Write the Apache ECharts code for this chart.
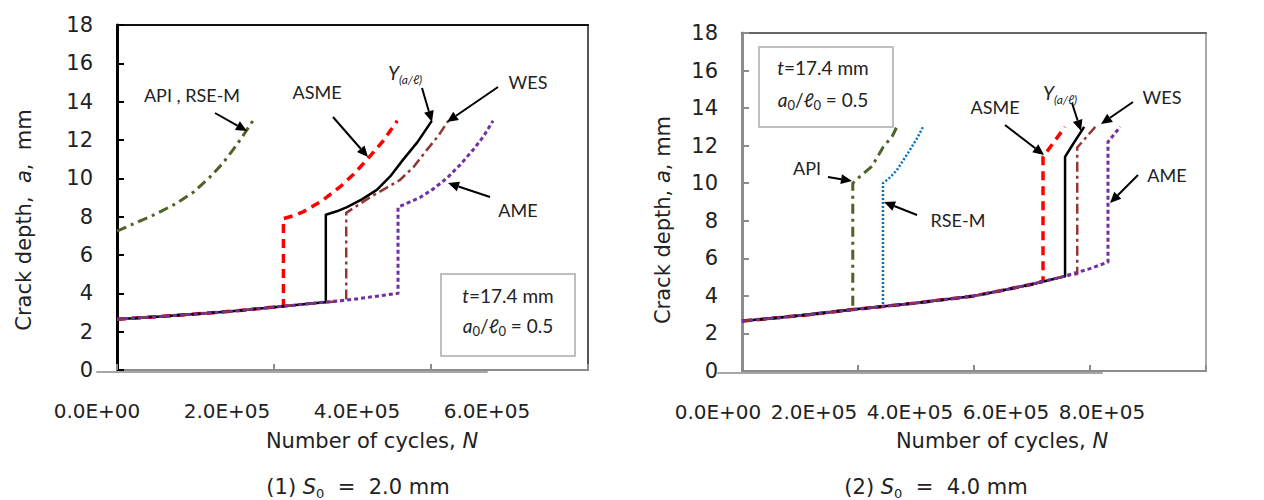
<!DOCTYPE html>
<html><head><meta charset="utf-8">
<script src="https://cdn.jsdelivr.net/npm/echarts@6/dist/echarts.min.js"></script>
<style>html,body{margin:0;padding:0;background:#fff}#c{width:1264px;height:500px}</style>
</head><body><div id="c"></div>
<script>
// ---------------- DATA ----------------
const xTickLabelsL = ['0.0E+00', '2.0E+05', '4.0E+05', '6.0E+05'];
const xTickLabelsR = ['0.0E+00', '2.0E+05', '4.0E+05', '6.0E+05', '8.0E+05'];

// (1) S0 = 2.0 mm
const L_API_N  = [0, 16600, 50000, 76000, 98000, 118000, 134000, 148000, 161000, 173000];
const L_API_A  = [7.25, 7.55, 8.15, 8.7, 9.3, 10.05, 10.75, 11.5, 12.25, 13.0];
const L_ASME_N = [0, 50000, 100000, 150000, 212000, 212000, 225000, 237000, 260000, 284000, 301000, 318000, 338000, 357000];
const L_ASME_A = [2.65, 2.78, 2.92, 3.08, 3.33, 7.9, 8.05, 8.25, 8.8, 9.55, 10.2, 10.95, 11.9, 13.0];
const L_Y_N    = [0, 50000, 100000, 150000, 200000, 250000, 266000, 266000, 280000, 293000, 312000, 331000, 348000, 364000, 383000, 401000];
const L_Y_A    = [2.65, 2.78, 2.92, 3.08, 3.28, 3.48, 3.53, 8.1, 8.28, 8.5, 8.9, 9.4, 10.1, 10.95, 11.9, 13.0];
const L_WES_N  = [0, 50000, 100000, 150000, 200000, 250000, 292000, 292000, 307000, 322000, 341000, 360000, 378000, 395000, 409000, 422000];
const L_WES_A  = [2.65, 2.78, 2.92, 3.08, 3.28, 3.48, 3.62, 8.2, 8.6, 9.0, 9.45, 9.9, 10.6, 11.5, 12.2, 13.0];
const L_AME_N  = [0, 50000, 100000, 150000, 200000, 250000, 300000, 358000, 358000, 372000, 386000, 403000, 420000, 437000, 454000, 467000, 479000];
const L_AME_A  = [2.65, 2.78, 2.92, 3.08, 3.28, 3.48, 3.68, 4.0, 8.5, 8.75, 9.0, 9.45, 10.0, 10.7, 11.5, 12.2, 13.0];

// (2) S0 = 4.0 mm
const R_API_N  = [0, 100000, 191000, 191000, 203000, 224000, 243000, 259000, 267000];
const R_API_A  = [2.66, 2.95, 3.28, 10.0, 10.35, 10.9, 11.9, 12.5, 13.0];
const R_RSE_N  = [0, 100000, 200000, 243000, 243000, 255000, 267000, 286000, 302000, 312000];
const R_RSE_A  = [2.66, 2.95, 3.3, 3.45, 10.0, 10.3, 10.7, 11.6, 12.4, 13.0];
const R_ASME_N = [0, 100000, 200000, 300000, 400000, 450000, 500000, 519000, 519000, 538000, 557000];
const R_ASME_A = [2.66, 2.95, 3.3, 3.62, 4.0, 4.3, 4.62, 4.78, 11.4, 12.2, 13.0];
const R_Y_N    = [0, 100000, 200000, 300000, 400000, 450000, 500000, 557000, 557000, 570000, 590000];
const R_Y_A    = [2.66, 2.95, 3.3, 3.62, 4.0, 4.3, 4.62, 5.05, 11.4, 12.05, 13.0];
const R_WES_N  = [0, 100000, 200000, 300000, 400000, 450000, 500000, 550000, 578000, 578000, 609000];
const R_WES_A  = [2.66, 2.95, 3.3, 3.62, 4.0, 4.3, 4.62, 5.0, 5.17, 11.9, 13.0];
const R_AME_N  = [0, 100000, 200000, 300000, 400000, 450000, 500000, 550000, 600000, 631000, 631000, 652000];
const R_AME_A  = [2.66, 2.95, 3.3, 3.62, 4.0, 4.3, 4.62, 5.0, 5.45, 5.8, 12.2, 13.0];

// ---------------- CHART ----------------
const zip = (n, a) => n.map((v, i) => [v, a[i]]);
const AX = 'DejaVu Sans';
const AN = 'Lato';
const TXT = '#222';

function line(name, xi, yi, data, color, width, type, z) {
  return {
    name, type: 'line', xAxisIndex: xi, yAxisIndex: yi, data: data,
    showSymbol: false, symbol: 'none', z: z || 2, silent: true,
    lineStyle: { color, width, type, cap: 'butt', join: 'round' }
  };
}

function arrow(x1, y1, x2, y2) {
  const dx = x2 - x1, dy = y2 - y1, L = Math.hypot(dx, dy), ux = dx / L, uy = dy / L;
  const hl = 11, hw = 5;
  const bx = x2 - ux * hl, by = y2 - uy * hl;
  return [
    { type: 'line', z: 50, shape: { x1, y1, x2: bx, y2: by }, style: { stroke: '#000', lineWidth: 2 } },
    { type: 'polygon', z: 50, shape: { points: [[x2, y2], [bx - uy * hw, by + ux * hw], [bx + uy * hw, by - ux * hw]] }, style: { fill: '#000' } }
  ];
}
function label(x, y, text, size, family, rich, rot) {
  return {
    type: 'text', x, y, z: 60, rotation: rot || 0,
    style: { text, fontSize: size, fontFamily: family, fill: TXT, align: 'center', verticalAlign: 'middle', rich: rich || {} }
  };
}
const infoRich = {
  i: { fontStyle: 'italic', fontSize: 19, fontFamily: AN, fill: TXT },
  s: { fontSize: 13, fontFamily: AN, fill: TXT, padding: [12, 0, 0, 0] }
};
const yRich = {
  Y: { fontStyle: 'italic', fontSize: 19, fontFamily: AN, fill: TXT },
  sb: { fontStyle: 'italic', fontSize: 12, fontFamily: AN, fill: TXT, padding: [14, 0, 0, 0] }
};
const axRich = {
  i: { fontStyle: 'italic', fontSize: 21, fontFamily: AX, fill: TXT },
  s: { fontSize: 13, fontFamily: AX, fill: TXT, padding: [12, 0, 0, 0] }
};
const capRich = {
  i: { fontStyle: 'italic', fontSize: 20, fontFamily: AX, fill: TXT },
  s: { fontSize: 13, fontFamily: AX, fill: TXT, padding: [12, 0, 0, 0] }
};

const graphics = [
  // info boxes
  { type: 'rect', z: 40, shape: { x: 441, y: 274, width: 134, height: 82 }, style: { fill: '#fff', stroke: '#bfbfbf', lineWidth: 2 } },
  label(508, 295, '{i|t}=17.4 mm', 19, AN, infoRich),
  label(508, 325, '{i|a}{s|0}/{i|ℓ}{s|0} = 0.5', 19, AN, infoRich),
  { type: 'rect', z: 40, shape: { x: 759, y: 47, width: 134, height: 80 }, style: { fill: '#fff', stroke: '#bfbfbf', lineWidth: 2 } },
  label(823, 67, '{i|t}=17.4 mm', 19, AN, infoRich),
  label(823, 99, '{i|a}{s|0}/{i|ℓ}{s|0} = 0.5', 19, AN, infoRich),
  // left annotations
  label(192, 95, 'API , RSE-M', 18, AN), ...arrow(215, 113, 247, 131),
  label(317, 92, 'ASME', 18, AN), ...arrow(333, 117, 368, 157),
  label(405, 72, '{Y|Y}{sb|(a/ℓ)}', 18, AN, yRich), ...arrow(422, 88, 432, 122),
  label(528, 82, 'WES', 18, AN), ...arrow(498, 87, 447, 122),
  label(518, 210, 'AME', 18, AN), ...arrow(490, 197, 448, 183),
  // right annotations
  label(807, 168, 'API', 18, AN), ...arrow(828, 177, 852, 181),
  label(958, 220, 'RSE-M', 18, AN), ...arrow(917, 215, 884, 202),
  label(995, 107, 'ASME', 18, AN), ...arrow(1005, 125, 1044, 155),
  label(1060, 92, '{Y|Y}{sb|(a/ℓ)}', 18, AN, yRich), ...arrow(1072, 103, 1081, 131),
  label(1162, 97, 'WES', 18, AN), ...arrow(1133, 102, 1101, 124),
  label(1167, 175, 'AME', 18, AN), ...arrow(1138, 175, 1110, 203),
  // axis titles
  label(24, 220, 'Crack depth,  {i|a},  mm', 21, AX, axRich, Math.PI / 2),
  label(663, 220, 'Crack depth, {i|a}, mm', 21, AX, axRich, Math.PI / 2),
  label(372, 441, 'Number of cycles, {i|N}', 21, AX, axRich),
  label(1002, 441, 'Number of cycles, {i|N}', 21, AX, axRich),
  label(358, 487, '(1) {i|S}{s|0}  =  2.0 mm', 21, AX, axRich),
  label(936, 487, '(2) {i|S}{s|0}  =  4.0 mm', 21, AX, axRich)
];

const hidden = { show: false };
function valX(grid, pos, max, lineColor, lineW, ticks, labels) {
  return {
    type: 'value', gridIndex: grid, position: pos, min: 0, max: max, interval: 200000,
    axisLine: lineColor ? { show: true, onZero: false, lineStyle: { color: lineColor, width: lineW } } : hidden,
    axisTick: ticks ? { show: true, inside: true, length: 6, lineStyle: { color: lineColor || '#8c8c8c', width: 2 } } : hidden,
    axisLabel: labels ? {
      show: true, margin: 29, fontSize: 20, fontFamily: AX, color: TXT,
      formatter: v => labels[Math.round(v / 200000)]
    } : hidden,
    splitLine: hidden
  };
}
function valY(grid, pos, lineColor, lineW, ticks, labels, tickColor) {
  return {
    type: 'value', gridIndex: grid, position: pos, min: 0, max: 18, interval: 2,
    axisLine: { show: true, onZero: false, lineStyle: { color: lineColor, width: lineW } },
    axisTick: ticks ? { show: true, inside: true, length: 7, lineStyle: { color: tickColor || lineColor, width: 2 } } : hidden,
    axisLabel: labels ? { show: true, margin: 24, fontSize: 21, fontFamily: AX, color: TXT } : hidden,
    splitLine: hidden
  };
}

const option = {
  animation: false,
  backgroundColor: '#fff',
  grid: [
    { left: 117, top: 25, width: 471, height: 345 },   // 0 left plot
    { left: 742, top: 33, width: 464, height: 338 },   // 1 right plot
    { left: 97, top: 25, width: 390, height: 347 },    // 2 left label axis
    { left: 718, top: 33, width: 384, height: 340 }    // 3 right label axis
  ],
  xAxis: [
    valX(0, 'bottom', 600000, '#8c8c8c', 2, true, null),
    valX(0, 'top', 600000, '#111', 2, false, null),
    valX(1, 'bottom', 800000, '#8c8c8c', 2, true, null),
    valX(1, 'top', 800000, '#666', 2, false, null),
    valX(2, 'bottom', 600000, '#a6a6a6', 2, false, xTickLabelsL),
    valX(3, 'bottom', 800000, '#a6a6a6', 2, false, xTickLabelsR)
  ],
  yAxis: [
    valY(0, 'left', '#000', 3, true, true),
    valY(0, 'right', '#555', 2, false, false),
    valY(1, 'left', '#8c8c8c', 3, true, true),
    valY(1, 'right', '#aaa', 2, false, false),
    { type: 'value', gridIndex: 2, min: 0, max: 18, show: false },
    { type: 'value', gridIndex: 3, min: 0, max: 18, show: false }
  ],
  series: [
    line('API, RSE-M', 0, 0, zip(L_API_N, L_API_A), '#4f6228', 3, [10, 5, 3, 5], 2),
    line('ASME', 0, 0, zip(L_ASME_N, L_ASME_A), '#ff0000', 3.5, [9, 6], 3),
    line('Y(a/l)', 0, 0, zip(L_Y_N, L_Y_A), '#000000', 2.5, 'solid', 4),
    line('WES', 0, 0, zip(L_WES_N, L_WES_A), '#943634', 2.5, [10, 4, 3, 4], 5),
    line('AME', 0, 0, zip(L_AME_N, L_AME_A), '#7030a0', 3, [4, 3], 6),

    line('API', 2, 2, zip(R_API_N, R_API_A), '#4f6228', 3, [10, 5, 3, 5], 2),
    line('RSE-M', 2, 2, zip(R_RSE_N, R_RSE_A), '#0070c0', 2.5, [2, 2], 2),
    line('ASME', 2, 2, zip(R_ASME_N, R_ASME_A), '#ff0000', 3.5, [9, 6], 3),
    line('Y(a/l)', 2, 2, zip(R_Y_N, R_Y_A), '#000000', 2.5, 'solid', 4),
    line('WES', 2, 2, zip(R_WES_N, R_WES_A), '#943634', 2.5, [10, 4, 3, 4], 5),
    line('AME', 2, 2, zip(R_AME_N, R_AME_A), '#7030a0', 3, [4, 3], 6)
  ],
  graphic: graphics
};

const chart = echarts.init(document.getElementById('c'), null, { renderer: 'svg', width: 1264, height: 500 });
chart.setOption(option);
</script>
</body></html>
